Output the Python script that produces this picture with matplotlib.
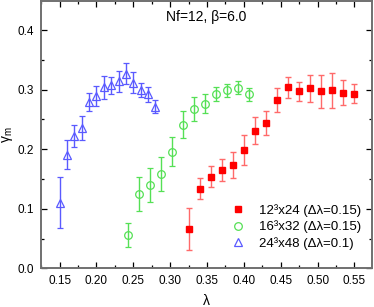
import matplotlib
matplotlib.use("Agg")
import matplotlib.pyplot as plt
from matplotlib.lines import Line2D
from matplotlib.ticker import MultipleLocator

plt.rcParams["font.family"] = ["Liberation Sans", "DejaVu Sans"]
plt.rcParams["mathtext.fontset"] = "custom"
plt.rcParams["mathtext.rm"] = "Liberation Sans"

# 12^3x24 (red squares)
lam_12 = [0.325, 0.34, 0.355, 0.37, 0.385, 0.40, 0.415, 0.43, 0.445, 0.46,
          0.475, 0.49, 0.505, 0.52, 0.535, 0.55]
gam_12 = [0.066, 0.134, 0.154, 0.165, 0.174, 0.199, 0.231, 0.244, 0.283, 0.304,
          0.297, 0.302, 0.297, 0.299, 0.295, 0.293]
err_12 = [0.036, 0.018, 0.017, 0.018, 0.022, 0.025, 0.023, 0.020, 0.020, 0.018,
          0.016, 0.023, 0.028, 0.029, 0.021, 0.016]

# 16^3x32 (green circles)
lam_16 = [0.2425, 0.2575, 0.2725, 0.2875, 0.3025, 0.3175, 0.3325, 0.3475,
          0.3625, 0.3775, 0.3925, 0.4075]
gam_16 = [0.056, 0.125, 0.140, 0.158, 0.196, 0.241, 0.268, 0.276, 0.293, 0.299,
          0.303, 0.292]
err_16 = [0.020, 0.028, 0.028, 0.029, 0.024, 0.023, 0.020, 0.016, 0.012, 0.011,
          0.011, 0.011]

# 24^3x48 (blue triangles)
lam_24 = [0.15, 0.16, 0.17, 0.18, 0.19, 0.20, 0.21, 0.22, 0.23, 0.24, 0.25,
          0.26, 0.27, 0.28]
gam_24 = [0.110, 0.191, 0.222, 0.236, 0.280, 0.289, 0.304, 0.307, 0.314, 0.327,
          0.312, 0.300, 0.292, 0.271]
err_24 = [0.043, 0.025, 0.019, 0.020, 0.015, 0.017, 0.019, 0.015, 0.018, 0.017,
          0.018, 0.012, 0.013, 0.011]

labels = ["12³x24 (Δλ=0.15)", "16³x32 (Δλ=0.15)", "24³x48 (Δλ=0.1)"]

fig = plt.figure(figsize=(3.74, 3.07), dpi=100)
ax = fig.add_axes([0.11, 0.126, 0.885, 0.871])

ax.errorbar(lam_12, gam_12, yerr=err_12, fmt="s", color="#ff0000", ms=4.2,
            ecolor="#ff6a6a", elinewidth=1.0, capsize=2.5, capthick=1.0)
ax.errorbar(lam_16, gam_16, yerr=err_16, fmt="o", mfc="none", mec="#55e055",
            ms=5.5, mew=0.9, ecolor="#55e055", elinewidth=1.0, capsize=2.5,
            capthick=1.0)
ax.errorbar(lam_24, gam_24, yerr=err_24, fmt="^", mfc="none", mec="#5a5aff",
            ms=5.5, mew=0.9, ecolor="#5a5aff", elinewidth=1.0, capsize=2.5,
            capthick=1.0)

ax.set_xlim(0.125, 0.574)
ax.set_ylim(0.0, 0.449)
ax.xaxis.set_major_locator(MultipleLocator(0.05))
ax.xaxis.set_minor_locator(MultipleLocator(0.025))
ax.yaxis.set_major_locator(MultipleLocator(0.1))
ax.yaxis.set_minor_locator(MultipleLocator(0.05))
ax.xaxis.set_major_formatter(plt.FuncFormatter(lambda v, p: f"{v:.2f}"))
ax.yaxis.set_major_formatter(plt.FuncFormatter(lambda v, p: f"{v:.1f}"))
ax.tick_params(which="both", direction="in", top=True, right=True,
               labelsize=8.5, width=0.9, pad=5)
ax.tick_params(which="major", length=4)
ax.tick_params(which="minor", length=2.5)
for s in ax.spines.values():
    s.set_color("#707070")
    s.set_linewidth(1.4)

ax.text(0.5, 0.94, "Nf=12, β=6.0", transform=ax.transAxes,
        ha="center", va="center", fontsize=10)
ax.set_xlabel("λ", fontsize=10, labelpad=5)
ax.set_ylabel("γ$_\\mathrm{m}$", fontsize=10, labelpad=2)

handles = [
    Line2D([], [], ls="none", marker="s", color="#ff0000", ms=4.2),
    Line2D([], [], ls="none", marker="o", mfc="none", mec="#55e055", ms=5.5, mew=0.9),
    Line2D([], [], ls="none", marker="^", mfc="none", mec="#5a5aff", ms=5.5, mew=0.9),
]
ax.legend(handles, labels, loc="upper left", bbox_to_anchor=(0.574, 0.24),
          frameon=False, fontsize=9.5, handletextpad=1.08, borderpad=0,
          borderaxespad=0, labelspacing=0.27, handlelength=1.06)

fig.savefig("out.png", dpi=100)
